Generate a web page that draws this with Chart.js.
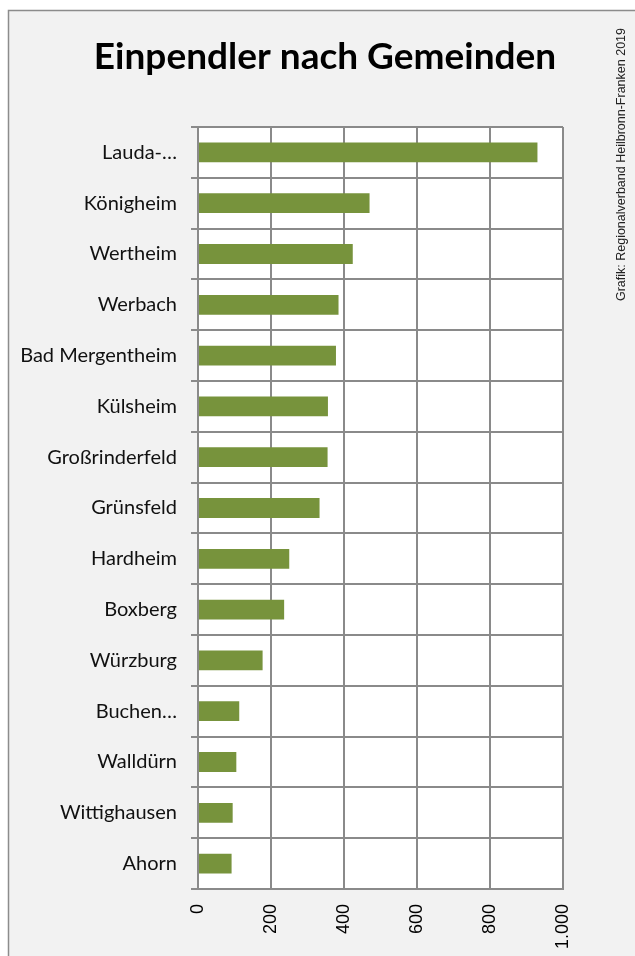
<!doctype html>
<html lang="de">
<head>
  <meta charset="UTF-8">
  <title>Einpendler nach Gemeinden</title>
  <script src="https://cdn.jsdelivr.net/npm/chart.js"></script>
  <style>
    body {
      margin: 0;
      background-color: #ffffff;
    }

    #wrap {
      width: 635px;
      height: 956px;
    }
  </style>
</head>
<body>
  <div id="wrap">
    <canvas id="pendler-chart" width="635" height="956"></canvas>
  </div>

<script>
  // Data
  const categories = ['Lauda-…', 'Königheim', 'Wertheim', 'Werbach', 'Bad Mergentheim', 'Külsheim',
    'Großrinderfeld', 'Grünsfeld', 'Hardheim', 'Boxberg', 'Würzburg', 'Buchen…', 'Walldürn',
    'Wittighausen', 'Ahorn'];
  const pendlerValues = [930, 470, 424, 385, 378, 356, 355, 333, 250, 236, 177, 113, 105, 95, 92];
  const axisMin = 0;
  const axisMax = 1000;
  const axisStep = 200;

  const titleText = 'Einpendler nach Gemeinden';
  const creditText = 'Grafik: Regionalverband Heilbronn-Franken 2019';

  const gridColor = '#8a8a8a';
  const barColor = '#77933c';

  // Frame, grey background, white plot area, title and the rotated credit line
  const backdrop = {
    id: 'backdrop',
    beforeDraw(chart) {
      const { ctx, width, height, chartArea } = chart;
      ctx.save();
      ctx.fillStyle = '#ffffff';
      ctx.fillRect(0, 0, width, height);
      ctx.fillStyle = '#f2f2f2';
      ctx.fillRect(8, 10, width - 8, height - 10);
      ctx.strokeStyle = '#8c8c8c';
      ctx.lineWidth = 1.5;
      ctx.beginPath();
      ctx.moveTo(8.5, height);
      ctx.lineTo(8.5, 10.5);
      ctx.lineTo(width, 10.5);
      ctx.stroke();
      ctx.fillStyle = '#ffffff';
      ctx.fillRect(chartArea.left, chartArea.top, chartArea.right - chartArea.left, chartArea.bottom - chartArea.top);
      ctx.restore();
    },
    afterDraw(chart) {
      const { ctx } = chart;
      ctx.save();
      ctx.fillStyle = '#000';
      ctx.font = 'bold 37px Lato, sans-serif';
      ctx.textAlign = 'center';
      ctx.textBaseline = 'alphabetic';
      ctx.fillText(titleText, 325, 69);

      ctx.translate(622, 28);
      ctx.rotate(-Math.PI / 2);
      ctx.fillStyle = '#222';
      ctx.font = '12.5px "Liberation Sans", Arial, sans-serif';
      ctx.textAlign = 'right';
      ctx.textBaseline = 'middle';
      ctx.fillText(creditText, 0, 0);
      ctx.restore();
    }
  };

  const ctx = document.getElementById('pendler-chart').getContext('2d');
  const pendlerChart = new Chart(ctx, {
    type: 'bar',
    data: {
      labels: categories,
      datasets: [{
        label: 'Einpendler',
        data: pendlerValues,
        backgroundColor: barColor,
        borderWidth: 0,
        barPercentage: 0.39,
        categoryPercentage: 1.0
      }]
    },
    options: {
      indexAxis: 'y',
      responsive: false,
      animation: false,
      locale: 'de-DE',
      layout: {
        padding: { top: 127, right: 72, bottom: 0, left: 0 }
      },
      plugins: {
        legend: { display: false },
        tooltip: { enabled: false },
        title: { display: false }
      },
      scales: {
        x: {
          min: axisMin,
          max: axisMax,
          ticks: {
            stepSize: axisStep,
            maxRotation: 90,
            minRotation: 90,
            padding: 15,
            color: '#000',
            font: { family: 'Liberation Sans', size: 18 }
          },
          grid: {
            color: gridColor,
            lineWidth: 2,
            drawTicks: false
          },
          border: { color: gridColor, width: 2 },
          afterFit(scale) {
            scale.height = 67;
          }
        },
        y: {
          ticks: {
            padding: 14,
            color: '#111',
            font: { family: 'Lato', size: 20 }
          },
          grid: {
            color: gridColor,
            lineWidth: 2,
            offset: true,
            tickLength: 7
          },
          border: { color: gridColor, width: 2 },
          afterFit(scale) {
            scale.width = 198;
          }
        }
      }
    },
    plugins: [backdrop]
  });
</script>
</body>
</html>
